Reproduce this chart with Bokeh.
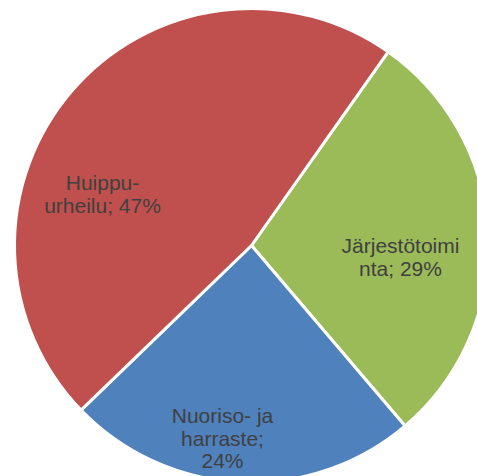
import math
from bokeh.plotting import figure
from bokeh.models import Range1d, ColumnDataSource
from bokeh.core.properties import value
from bokeh.embed import file_html
from bokeh.resources import INLINE

# ---- data ----
categories = ["Järjestötoiminta", "Nuoriso- ja harraste", "Huippu-urheilu"]
percents = [29, 24, 47]
colors = ["#9BBB59", "#4F81BD", "#C0504D"]
label_lines = [
    ["Järjestötoimi", "nta; 29%"],
    ["Nuoriso- ja", "harraste;", "24%"],
    ["Huippu-", "urheilu; 47%"],
]

# ---- layout (screen pixels) ----
W, H = 477, 476
cx_s, cy_s = 251, 245          # pie centre in screen px
R = 237
start_deg_from_top = 35.2      # clockwise from 12 o'clock
label_anchor = [(400, 245), (222, 415), (102, 182)]  # centre x, first baseline y (screen)
line_gap = 22.5

def sy(y):
    return H - y

total = sum(percents)
starts, ends = [], []
acc = start_deg_from_top
for v in percents:
    a0 = acc
    a1 = acc + v / total * 360.0
    starts.append(math.radians(90 - a0))
    ends.append(math.radians(90 - a1))
    acc = a1

src = ColumnDataSource(dict(cat=categories, start=starts, end=ends, color=colors))

p = figure(width=W, height=H, x_range=Range1d(0, W), y_range=Range1d(0, H),
           output_backend="svg", toolbar_location=None, min_border=0)
p.axis.visible = False
p.grid.visible = False
p.outline_line_color = None
p.background_fill_color = "white"

p.wedge(x=cx_s, y=sy(cy_s), radius=R, start_angle="start", end_angle="end",
        direction="clock", fill_color="color", line_color="white", line_width=3,
        source=src)

tx, ty, tt = [], [], []
for (ax, ay), lines in zip(label_anchor, label_lines):
    for i, ln in enumerate(lines):
        tx.append(ax)
        ty.append(sy(ay + i * line_gap))
        tt.append(ln)

p.text(x=tx, y=ty, text=tt, text_align="center", text_baseline="alphabetic",
       text_font=value("Liberation Sans"), text_font_size="21px", text_color="#404040")

open("out.html", "w").write(file_html(p, INLINE))
